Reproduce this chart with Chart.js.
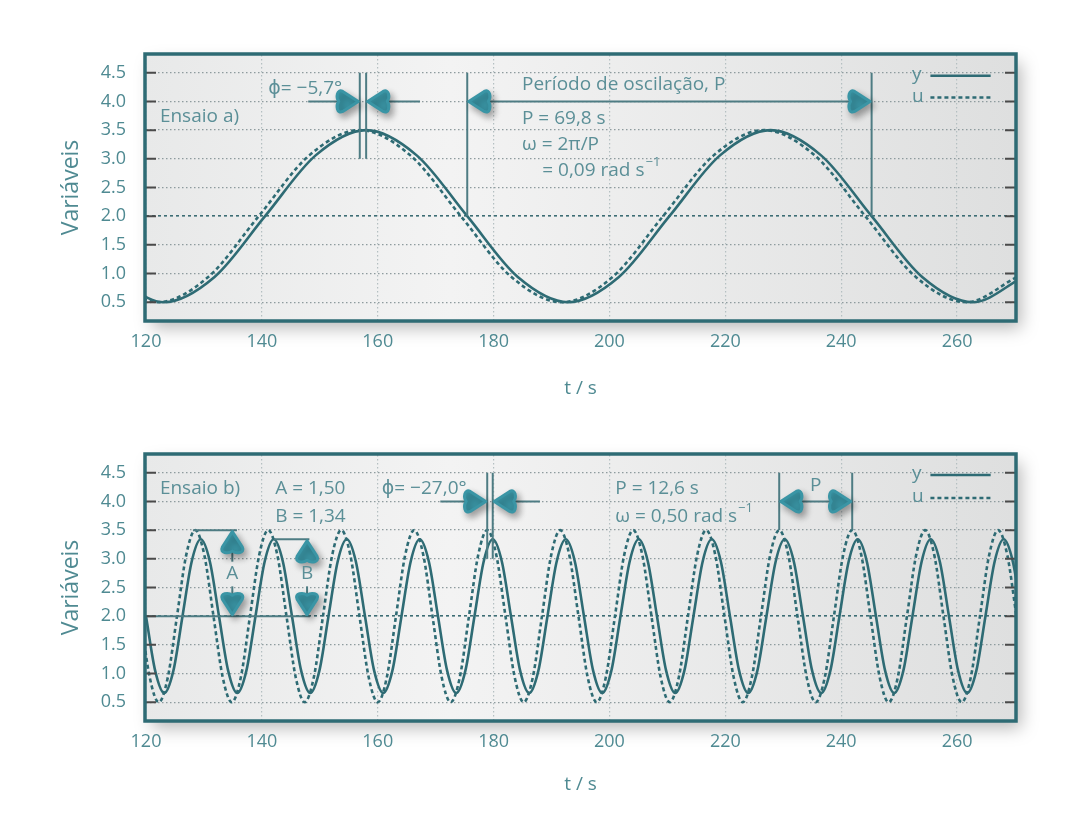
<!DOCTYPE html>
<html>
<head>
<meta charset="utf-8">
<script src="https://cdn.jsdelivr.net/npm/chart.js@4.4.0/dist/chart.umd.min.js"></script>
<style>
html, body { margin: 0; padding: 0; background: #fff; }
#wrapA { position: absolute; left: 0; top: 0; }
#wrapB { position: absolute; left: 0; top: 400px; }
</style>
</head>
<body>
<div id="wrapA"><canvas id="chartA" width="1080" height="400"></canvas></div>
<div id="wrapB"><canvas id="chartB" width="1080" height="434"></canvas></div>
<script>
// axis ticks (both panels)
const xTicks = [120, 140, 160, 180, 200, 220, 240, 260];
const yTicks = [0.5, 1.0, 1.5, 2.0, 2.5, 3.0, 3.5, 4.0, 4.5];

// Ensaio a) (t in s)
const tA_y = [114.38, 123.10, 131.83, 140.55, 149.28, 158.00, 166.73, 175.45, 184.18, 192.90,
              201.63, 210.35, 219.08, 227.80, 236.53, 245.25, 253.98, 262.70, 271.43];
const vA_y = [0.94, 0.5, 0.94, 2.0, 3.06, 3.5, 3.06, 2.0, 0.94, 0.5,
              0.94, 2.0, 3.06, 3.5, 3.06, 2.0, 0.94, 0.5, 0.94];
const tA_u = [113.28, 122.00, 130.73, 139.45, 148.18, 156.90, 165.63, 174.35, 183.08, 191.80,
              200.53, 209.25, 217.98, 226.70, 235.43, 244.15, 252.88, 261.60, 270.33];
const vA_u = [0.94, 0.5, 0.94, 2.0, 3.06, 3.5, 3.06, 2.0, 0.94, 0.5,
              0.94, 2.0, 3.06, 3.5, 3.06, 2.0, 0.94, 0.5, 0.94];

// Ensaio b)
const tB_u = [119.05,120.63,122.20,123.78,125.35,126.93,128.50,130.08,
              131.65,133.23,134.80,136.38,137.95,139.53,141.10,142.68,
              144.25,145.83,147.40,148.98,150.55,152.13,153.70,155.28,
              156.85,158.43,160.00,161.58,163.15,164.73,166.30,167.88,
              169.45,171.03,172.60,174.18,175.75,177.33,178.90,180.48,
              182.05,183.63,185.20,186.78,188.35,189.93,191.50,193.08,
              194.65,196.23,197.80,199.38,200.95,202.53,204.10,205.68,
              207.25,208.83,210.40,211.98,213.55,215.13,216.70,218.28,
              219.85,221.43,223.00,224.58,226.15,227.73,229.30,230.88,
              232.45,234.03,235.60,237.18,238.75,240.33,241.90,243.48,
              245.05,246.63,248.20,249.78,251.35,252.93,254.50,256.08,
              257.65,259.23,260.80,262.38,263.95,265.53,267.10,268.68,
              270.25,271.83];
const vB_u = [2.0,0.94,0.5,0.94,2.0,3.06,3.5,3.06,
              2.0,0.94,0.5,0.94,2.0,3.06,3.5,3.06,
              2.0,0.94,0.5,0.94,2.0,3.06,3.5,3.06,
              2.0,0.94,0.5,0.94,2.0,3.06,3.5,3.06,
              2.0,0.94,0.5,0.94,2.0,3.06,3.5,3.06,
              2.0,0.94,0.5,0.94,2.0,3.06,3.5,3.06,
              2.0,0.94,0.5,0.94,2.0,3.06,3.5,3.06,
              2.0,0.94,0.5,0.94,2.0,3.06,3.5,3.06,
              2.0,0.94,0.5,0.94,2.0,3.06,3.5,3.06,
              2.0,0.94,0.5,0.94,2.0,3.06,3.5,3.06,
              2.0,0.94,0.5,0.94,2.0,3.06,3.5,3.06,
              2.0,0.94,0.5,0.94,2.0,3.06,3.5,3.06,
              2.0,0.94];
const tB_y = [120.00,121.58,123.15,124.73,126.30,127.88,129.45,131.03,
              132.60,134.18,135.75,137.33,138.90,140.48,142.05,143.63,
              145.20,146.78,148.35,149.93,151.50,153.08,154.65,156.23,
              157.80,159.38,160.95,162.53,164.10,165.68,167.25,168.83,
              170.40,171.98,173.55,175.13,176.70,178.28,179.85,181.43,
              183.00,184.58,186.15,187.73,189.30,190.88,192.45,194.03,
              195.60,197.18,198.75,200.33,201.90,203.48,205.05,206.63,
              208.20,209.78,211.35,212.93,214.50,216.08,217.65,219.23,
              220.80,222.38,223.95,225.53,227.10,228.68,230.25,231.83,
              233.40,234.98,236.55,238.13,239.70,241.28,242.85,244.43,
              246.00,247.58,249.15,250.73,252.30,253.88,255.45,257.03,
              258.60,260.18,261.75,263.33,264.90,266.48,268.05,269.63,
              271.20];
const vB_y = [2.0,1.05,0.66,1.05,2.0,2.95,3.34,2.95,
              2.0,1.05,0.66,1.05,2.0,2.95,3.34,2.95,
              2.0,1.05,0.66,1.05,2.0,2.95,3.34,2.95,
              2.0,1.05,0.66,1.05,2.0,2.95,3.34,2.95,
              2.0,1.05,0.66,1.05,2.0,2.95,3.34,2.95,
              2.0,1.05,0.66,1.05,2.0,2.95,3.34,2.95,
              2.0,1.05,0.66,1.05,2.0,2.95,3.34,2.95,
              2.0,1.05,0.66,1.05,2.0,2.95,3.34,2.95,
              2.0,1.05,0.66,1.05,2.0,2.95,3.34,2.95,
              2.0,1.05,0.66,1.05,2.0,2.95,3.34,2.95,
              2.0,1.05,0.66,1.05,2.0,2.95,3.34,2.95,
              2.0,1.05,0.66,1.05,2.0,2.95,3.34,2.95,
              2.0];

const FONT = '"Open Sans", "DejaVu Sans", sans-serif';
const TEAL = '#2e6b74';
const TXT = '#4f8a92';
const NOTE = '#5b8f97';
const ARROW = '#3a95a5';

function pts(ts, vs) { return ts.map((t, i) => ({x: t, y: vs[i]})); }

// rounded arrowhead, tip at (x, y)
function drawArrow(ctx, x, y, dir) {
  const ang = {right: 0, left: Math.PI, up: -Math.PI / 2, down: Math.PI / 2}[dir];
  ctx.save();
  ctx.translate(x, y);
  ctx.rotate(ang);
  ctx.shadowColor = 'rgba(0,0,0,0.33)';
  ctx.shadowBlur = 7;
  ctx.shadowOffsetX = 3;
  ctx.shadowOffsetY = 4;
  ctx.fillStyle = ARROW;
  ctx.strokeStyle = ARROW;
  ctx.lineWidth = 3;
  ctx.lineJoin = 'round';
  ctx.beginPath();
  ctx.moveTo(-1.5, 0);
  ctx.lineTo(-17, -10);
  ctx.bezierCurveTo(-23, -13, -24, -4, -21, 0);
  ctx.bezierCurveTo(-24, 4, -23, 13, -17, 10);
  ctx.closePath();
  ctx.fill();
  ctx.stroke();
  ctx.restore();
}

const panelPlugin = {
  id: 'panel',
  beforeDraw(chart) {
    const {ctx, chartArea: a} = chart;
    ctx.save();
    ctx.shadowColor = 'rgba(0,0,0,0.28)';
    ctx.shadowBlur = 16;
    ctx.shadowOffsetX = 6;
    ctx.shadowOffsetY = 8;
    const g = ctx.createLinearGradient(a.left, 0, a.right, 0);
    g.addColorStop(0, '#e8e9e9');
    g.addColorStop(0.35, '#f3f3f3');
    g.addColorStop(1, '#dedfdf');
    ctx.fillStyle = g;
    ctx.fillRect(a.left, a.top, a.width, a.height);
    ctx.restore();
  },
  afterDatasetsDraw(chart, args, o) {
    const {ctx} = chart;
    const x = chart.scales.x, y = chart.scales.y;
    const px = t => x.getPixelForValue(t), py = v => y.getPixelForValue(v);
    ctx.save();
    ctx.strokeStyle = '#4e7c83';
    ctx.lineWidth = 2;
    o.lines.forEach(([t1, v1, t2, v2]) => {
      ctx.beginPath();
      ctx.moveTo(px(t1), py(v1));
      ctx.lineTo(px(t2), py(v2));
      ctx.stroke();
    });
    o.arrows.forEach(([t, v, dir]) => drawArrow(ctx, px(t), py(v), dir));

    ctx.fillStyle = NOTE;
    ctx.textBaseline = 'middle';
    o.notes.forEach(([t, v, s, align]) => {
      const parts = s.split('^');
      ctx.font = '19px ' + FONT;
      ctx.textAlign = align || 'left';
      ctx.fillText(parts[0], px(t), py(v));
      if (parts[1]) {
        const w = ctx.measureText(parts[0]).width;
        ctx.font = '13px ' + FONT;
        ctx.textAlign = 'left';
        ctx.fillText(parts[1], px(t) + w + 1, py(v) - 8);
      }
    });

    // legend
    o.legend.forEach(it => {
      ctx.font = '19px ' + FONT;
      ctx.textAlign = 'left';
      ctx.fillText(it.label, px(it.t), py(it.v) - 1);
      ctx.strokeStyle = TEAL;
      ctx.lineWidth = 2.5;
      ctx.setLineDash(it.dash);
      ctx.beginPath();
      ctx.moveTo(px(it.t1), py(it.v));
      ctx.lineTo(px(it.t2), py(it.v));
      ctx.stroke();
      ctx.setLineDash([]);
    });
    ctx.restore();
  },
  afterDraw(chart) {
    const {ctx, chartArea: a} = chart;
    const y = chart.scales.y;
    ctx.save();
    ctx.strokeStyle = '#4a4a4a';
    ctx.lineWidth = 2;
    yTicks.forEach(v => {
      const p = y.getPixelForValue(v);
      ctx.beginPath();
      ctx.moveTo(a.left, p); ctx.lineTo(a.left + 10, p);
      ctx.moveTo(a.right - 10, p); ctx.lineTo(a.right, p);
      ctx.stroke();
    });
    ctx.strokeStyle = TEAL;
    ctx.lineWidth = 3.5;
    ctx.strokeRect(a.left - 1, a.top - 1, a.width + 2, a.height + 2);
    ctx.restore();
  }
};

function makeChart(id, ySeries, uSeries, panel, bottomPad, titlePad) {
  return new Chart(document.getElementById(id), {
    type: 'line',
    data: {
      datasets: [{
        label: 'y',
        data: ySeries,
        borderColor: TEAL,
        borderWidth: 2.6,
        pointRadius: 0,
        cubicInterpolationMode: 'monotone'
      }, {
        label: 'u',
        data: uSeries,
        borderColor: TEAL,
        borderWidth: 2.6,
        borderDash: [4, 3],
        pointRadius: 0,
        cubicInterpolationMode: 'monotone'
      }]
    },
    options: {
      responsive: false,
      animation: false,
      devicePixelRatio: 1,
      layout: {padding: {top: 55, right: 65, left: 0, bottom: bottomPad}},
      plugins: {
        legend: {display: false},
        tooltip: {enabled: false},
        panel: panel
      },
      scales: {
        x: {
          type: 'linear',
          min: 120,
          max: 270,
          afterBuildTicks: s => { s.ticks = xTicks.map(v => ({value: v})); },
          afterFit: s => { s.height = 80; },
          grid: {color: '#b4bfc1', lineWidth: 1.2, drawTicks: false},
          border: {display: false, dash: [1.5, 2.5]},
          ticks: {color: TXT, font: {family: FONT, size: 18}, padding: 11},
          title: {display: true, text: 't / s', color: TXT,
                  font: {family: FONT, size: 19}, padding: {bottom: titlePad}}
        },
        y: {
          min: 0.19,
          max: 4.81,
          afterBuildTicks: s => { s.ticks = yTicks.map(v => ({value: v})); },
          afterFit: s => { s.width = 146; },
          grid: {
            color: c => c.tick && c.tick.value === 2 ? '#3d6d74' : '#8e9b9e',
            lineWidth: c => c.tick && c.tick.value === 2 ? 1.6 : 1.3,
            drawTicks: false
          },
          border: {
            display: false,
            dash: c => c.tick && c.tick.value === 2 ? [3, 3] : [1.5, 2.5]
          },
          ticks: {color: TXT, font: {family: FONT, size: 18}, padding: 20,
                  callback: v => v.toFixed(1)},
          title: {display: true, text: 'Variáveis', color: TXT,
                  font: {family: FONT, size: 23}, padding: {top: 58}}
        }
      }
    },
    plugins: [panelPlugin]
  });
}

makeChart('chartA', pts(tA_y, vA_y), pts(tA_u, vA_u), {
  lines: [
    [156.9, 4.5, 156.9, 3.0], [158.0, 4.5, 158.0, 3.0],
    [148.0, 4.0, 156.9, 4.0], [158.0, 4.0, 167.3, 4.0],
    [175.45, 4.5, 175.45, 2.0], [245.25, 4.5, 245.25, 2.0],
    [175.45, 4.0, 245.25, 4.0]
  ],
  arrows: [
    [156.9, 4.0, 'right'], [158.0, 4.0, 'left'],
    [175.45, 4.0, 'left'], [245.25, 4.0, 'right']
  ],
  notes: [
    [122.4, 3.73, 'Ensaio a)'],
    [141.1, 4.23, 'ϕ= −5,7°'],
    [184.9, 4.29, 'Período de oscilação, P'],
    [184.9, 3.70, 'P = 69,8 s'],
    [184.9, 3.25, 'ω = 2π/P'],
    [188.4, 2.80, '= 0,09 rad s^−1']
  ],
  legend: [
    {label: 'y', t: 252.2, v: 4.45, t1: 255.4, t2: 265.8, dash: []},
    {label: 'u', t: 252.2, v: 4.07, t1: 255.4, t2: 265.8, dash: [4, 3]}
  ]
}, 0, 0);

makeChart('chartB', pts(tB_y, vB_y), pts(tB_u, vB_u), {
  lines: [
    [178.9, 4.5, 178.9, 3.0], [179.85, 4.5, 179.85, 3.0],
    [170.8, 4.0, 178.9, 4.0], [179.85, 4.0, 188.0, 4.0],
    [229.3, 4.5, 229.3, 3.5], [241.9, 4.5, 241.9, 3.5], [229.3, 4.0, 241.9, 4.0],
    [128.1, 3.5, 135.7, 3.5], [142.1, 3.34, 148.2, 3.34], [120, 2.0, 148.3, 2.0],
    [134.9, 3.5, 134.9, 2.95], [134.9, 2.52, 134.9, 2.0],
    [147.8, 3.34, 147.8, 2.95], [147.8, 2.52, 147.8, 2.0]
  ],
  arrows: [
    [178.9, 4.0, 'right'], [179.85, 4.0, 'left'],
    [229.3, 4.0, 'left'], [241.9, 4.0, 'right'],
    [134.9, 3.5, 'up'], [134.9, 2.0, 'down'],
    [147.8, 3.34, 'up'], [147.8, 2.0, 'down']
  ],
  notes: [
    [122.4, 4.22, 'Ensaio b)'],
    [142.3, 4.22, 'A = 1,50'],
    [142.3, 3.74, 'B = 1,34'],
    [160.7, 4.22, 'ϕ= −27,0°'],
    [201.0, 4.22, 'P = 12,6 s'],
    [201.0, 3.74, 'ω = 0,50 rad s^−1'],
    [235.6, 4.27, 'P', 'center'],
    [134.9, 2.74, 'A', 'center'],
    [147.8, 2.74, 'B', 'center']
  ],
  legend: [
    {label: 'y', t: 252.2, v: 4.46, t1: 255.4, t2: 265.8, dash: []},
    {label: 'u', t: 252.2, v: 4.06, t1: 255.4, t2: 265.8, dash: [4, 3]}
  ]
}, 34, 4);
</script>
</body>
</html>
